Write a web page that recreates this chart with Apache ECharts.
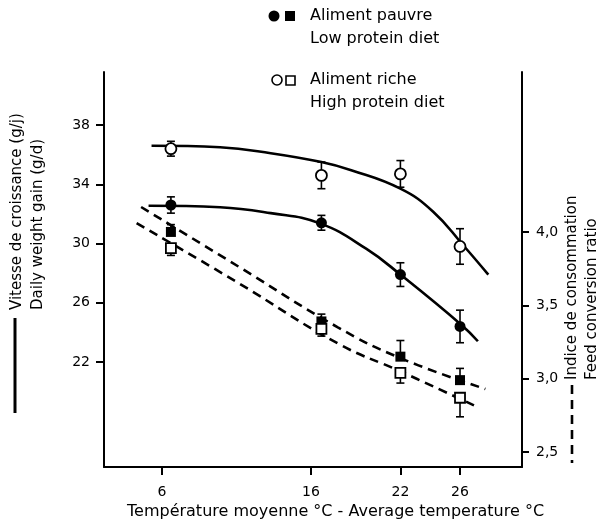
<!DOCTYPE html>
<html lang="fr">
<head>
<meta charset="UTF-8">
<title>Vitesse de croissance / Indice de consommation</title>
<style>
  html, body { margin: 0; padding: 0; background: #fff; }
  #main { width: 598px; height: 525px; }
</style>
</head>
<body>
<div id="main"></div>
<script src="https://cdn.jsdelivr.net/npm/echarts@6.0.0/dist/echarts.min.js"></script>
<script>
// temperatures of the measured points and tick labels
var tempPts = [6.6, 16.7, 22, 26];
var xTicks = [6, 16, 22, 26];
var gainTicks = [22, 26, 30, 34, 38];
var fcrTicks = [2.5, 3.0, 3.5, 4.0];

// daily weight gain (g/d), left axis
var gainHigh = [36.4, 34.6, 34.7, 29.8];
var gainHighErr = [0.5, 0.9, 0.9, 1.2];
var gainLow = [32.6, 31.4, 27.9, 24.4];
var gainLowErr = [0.55, 0.5, 0.8, 1.1];

// feed conversion ratio, right axis
var fcrLow = [4.0, 3.39, 3.15, 2.99];
var fcrLowErr = [0.05, 0.05, 0.11, 0.08];
var fcrHigh = [3.89, 3.34, 3.04, 2.87];
var fcrHighErr = [0.05, 0.05, 0.07, 0.13];

// fitted curves
var curveHighX = [5.3, 9.9, 13.3, 16.7, 18.7, 22, 24.2, 26.2, 27.9];
var curveHighY = [36.6, 36.5, 36.1, 35.5, 34.95, 33.7, 32.15, 29.9, 27.9];
var curveLowX = [5.1, 9.9, 13.3, 16.6, 19.7, 22, 26.1, 27.2];
var curveLowY = [32.55, 32.45, 32.05, 31.36, 29.65, 27.9, 24.5, 23.4];
var dashLowX = [4.6, 11.2, 17.8, 22, 27.7];
var dashLowY = [4.17, 3.76, 3.35, 3.14, 2.93];
var dashHighX = [4.3, 11.0, 17.8, 22, 27.1];
var dashHighY = [4.06, 3.66, 3.24, 3.05, 2.81];

var FONT = '"DejaVu Sans", sans-serif';

function pairs(xs, ys) {
    return xs.map(function (x, i) { return [x, ys[i]]; });
}

// [x, from, to] ; dir 0 = both sides, 1 = upwards only, -1 = downwards only
function bars(xs, ys, errs, dir) {
    return xs.map(function (x, i) {
        var lo = dir > 0 ? ys[i] : ys[i] - errs[i];
        var hi = dir < 0 ? ys[i] : ys[i] + errs[i];
        return [x, lo, hi];
    });
}

function errorSeries(yIdx, data) {
    return {
        type: 'custom',
        yAxisIndex: yIdx,
        silent: true,
        z: 2,
        encode: { x: 0, y: [1, 2] },
        data: data,
        renderItem: function (params, api) {
            var x = api.value(0);
            var a = api.coord([x, api.value(1)]);
            var b = api.coord([x, api.value(2)]);
            var s = { stroke: '#000', lineWidth: 1.6 };
            return {
                type: 'group',
                children: [
                    { type: 'line', shape: { x1: a[0], y1: a[1], x2: b[0], y2: b[1] }, style: s },
                    { type: 'line', shape: { x1: a[0] - 4, y1: a[1], x2: a[0] + 4, y2: a[1] }, style: s },
                    { type: 'line', shape: { x1: b[0] - 4, y1: b[1], x2: b[0] + 4, y2: b[1] }, style: s }
                ]
            };
        }
    };
}

function curve(name, yIdx, data, dashed) {
    return {
        name: name,
        type: 'line',
        yAxisIndex: yIdx,
        data: data,
        smooth: 0.45,
        showSymbol: false,
        silent: true,
        z: 1,
        lineStyle: { color: '#000', width: 2.6, type: dashed ? [9, 6] : 'solid' }
    };
}

function points(name, yIdx, data, symbol, filled) {
    return {
        name: name,
        type: 'scatter',
        yAxisIndex: yIdx,
        data: data,
        symbol: symbol,
        symbolSize: symbol === 'circle' ? 11 : 10,
        z: 3,
        itemStyle: {
            color: filled ? '#000' : '#fff',
            borderColor: '#000',
            borderWidth: filled ? 0 : 1.8,
            opacity: 1
        }
    };
}

var labelStyle = { color: '#000', fontFamily: FONT, fontSize: 14 };
var tickStyle = { color: '#000', width: 2 };

var myChart = echarts.init(document.getElementById('main'));
var option = {
    animation: false,
    backgroundColor: '#fff',
    grid: { left: 104, right: 76, top: 72, bottom: 58 },
    xAxis: {
        type: 'value',
        min: 2.11,
        max: 30.16,
        axisLine: { lineStyle: { color: '#000', width: 2 } },
        axisTick: { show: true, length: 8, lineStyle: tickStyle, customValues: xTicks },
        axisLabel: Object.assign({ margin: 18, customValues: xTicks }, labelStyle),
        splitLine: { show: false }
    },
    yAxis: [{
        type: 'value',
        position: 'left',
        min: 14.91,
        max: 41.58,
        axisLine: { show: true, lineStyle: { color: '#000', width: 2 } },
        axisTick: { show: true, length: 8, lineStyle: tickStyle, customValues: gainTicks },
        axisLabel: Object.assign({ margin: 14, customValues: gainTicks }, labelStyle),
        splitLine: { show: false }
    }, {
        type: 'value',
        position: 'right',
        min: 2.398,
        max: 5.09,
        axisLine: { show: true, lineStyle: { color: '#000', width: 2 } },
        axisTick: { show: true, length: 7, lineStyle: tickStyle, customValues: fcrTicks },
        axisLabel: Object.assign({
            margin: 14,
            customValues: fcrTicks,
            formatter: function (v) { return v.toFixed(1).replace('.', ','); }
        }, labelStyle),
        splitLine: { show: false }
    }],
    series: [
        curve('Croissance riche', 0, pairs(curveHighX, curveHighY), false),
        curve('Croissance pauvre', 0, pairs(curveLowX, curveLowY), false),
        curve('Indice pauvre', 1, pairs(dashLowX, dashLowY), true),
        curve('Indice riche', 1, pairs(dashHighX, dashHighY), true),
        errorSeries(0, bars(tempPts, gainHigh, gainHighErr, 0)),
        errorSeries(0, bars(tempPts, gainLow, gainLowErr, 0)),
        errorSeries(1, bars(tempPts, fcrLow, fcrLowErr, 1)),
        errorSeries(1, bars(tempPts, fcrHigh, fcrHighErr, -1)),
        points('Aliment riche', 0, pairs(tempPts, gainHigh), 'circle', false),
        points('Aliment pauvre', 0, pairs(tempPts, gainLow), 'circle', true),
        points('Aliment pauvre FCR', 1, pairs(tempPts, fcrLow), 'rect', true),
        points('Aliment riche FCR', 1, pairs(tempPts, fcrHigh), 'rect', false)
    ],
    graphic: [
        // legend block at the top
        { type: 'circle', shape: { cx: 274, cy: 16, r: 5.5 }, style: { fill: '#000' } },
        { type: 'rect', shape: { x: 285, y: 11, width: 10, height: 10 }, style: { fill: '#000' } },
        { type: 'text', x: 310, y: 16, style: { text: 'Aliment pauvre', font: '16px ' + FONT, fill: '#000', verticalAlign: 'middle' } },
        { type: 'text', x: 310, y: 39, style: { text: 'Low protein diet', font: '16px ' + FONT, fill: '#000', verticalAlign: 'middle' } },
        { type: 'circle', shape: { cx: 277, cy: 80, r: 5 }, style: { fill: '#fff', stroke: '#000', lineWidth: 1.6 } },
        { type: 'rect', shape: { x: 286, y: 76, width: 9, height: 9 }, style: { fill: '#fff', stroke: '#000', lineWidth: 1.6 } },
        { type: 'text', x: 310, y: 80, style: { text: 'Aliment riche', font: '16px ' + FONT, fill: '#000', verticalAlign: 'middle' } },
        { type: 'text', x: 310, y: 103, style: { text: 'High protein diet', font: '16px ' + FONT, fill: '#000', verticalAlign: 'middle' } },
        // x axis title
        { type: 'text', x: 127, y: 512, style: { text: 'Température moyenne °C - Average temperature °C', font: '16px ' + FONT, fill: '#000', verticalAlign: 'middle' } },
        // left axis titles
        { type: 'line', shape: { x1: 15, y1: 318, x2: 15, y2: 413 }, style: { stroke: '#000', lineWidth: 3 } },
        { type: 'text', x: 17, y: 310, rotation: Math.PI / 2, style: { text: 'Vitesse de croissance (g/j)', font: '15px ' + FONT, fill: '#000', verticalAlign: 'middle' } },
        { type: 'text', x: 38, y: 310, rotation: Math.PI / 2, style: { text: 'Daily weight gain (g/d)', font: '15px ' + FONT, fill: '#000', verticalAlign: 'middle' } },
        // right axis titles
        { type: 'line', shape: { x1: 572, y1: 385, x2: 572, y2: 463 }, style: { stroke: '#000', lineWidth: 2.6, lineDash: [9, 6] } },
        { type: 'text', x: 572, y: 380, rotation: Math.PI / 2, style: { text: 'Indice de consommation', font: '15px ' + FONT, fill: '#000', verticalAlign: 'middle' } },
        { type: 'text', x: 592, y: 380, rotation: Math.PI / 2, style: { text: 'Feed conversion ratio', font: '15px ' + FONT, fill: '#000', verticalAlign: 'middle' } }
    ]
};
myChart.setOption(option);
</script>
</body>
</html>
